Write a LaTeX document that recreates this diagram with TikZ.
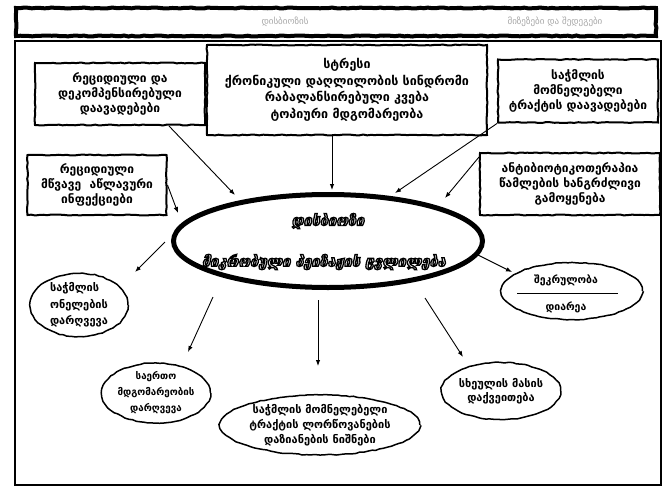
\documentclass[tikz,border=0pt]{standalone}
\usepackage{fontspec}
\setmainfont{DejaVu Sans}
\usetikzlibrary{arrows.meta,shapes.geometric,decorations.pathmorphing}

% outlined lettering: glyphs stroked, not filled
\newcommand\hollowtext[1]{%
  \special{pdf:literal direct 1 Tr 1.3 w}#1\special{pdf:literal direct 0 Tr}}

\tikzset{
  rough/.style={decorate, decoration={random steps, segment length=4pt, amplitude=.5pt}},
  causebox/.style={draw, rough, line width=2pt, align=center, inner sep=1pt,
    font=\bfseries\fontsize{12}{15}\selectfont},
  effect/.style={draw, ellipse, rough, line width=1.5pt, align=center, inner sep=0pt,
    font=\bfseries\fontsize{11}{16.5}\selectfont},
  arr/.style={-{Latex[length=6pt,width=4.5pt]}, line width=0.9pt},
  corefont/.style={font=\bfseries\itshape\fontsize{14.5}{16}\selectfont},
}

\begin{document}
\pgfmathsetseed{7}
\begin{tikzpicture}[x=1pt,y=-1pt]
\useasboundingbox (0,0) rectangle (667,490);

% heading strip
\draw[rough, line width=4pt] (16,8) rectangle (656,36);
\node[text=black!35, font=\fontsize{9}{10}\selectfont] (headA) at (285,22) {დისბიოზის};
\node[text=black!35, font=\fontsize{9}{10}\selectfont] (headB) at (555,22) {მიზეზები და შედეგები};

% outer frame
\draw[line width=1.3pt] (15,41) rectangle (661,485);

% causes
\node[causebox, minimum width=170pt, minimum height=62pt] (tl) at (120,94)
  {რეციდიული და\\დეკომპენსირებული\\დაავადებები};
\node[causebox, minimum width=280pt, minimum height=90pt, font=\bfseries\fontsize{12.5}{16.5}\selectfont] (tc) at (347,90)
  {სტრესი\\ქრონიკული დაღლილობის სინდრომი\\რაბალანსირებული კვება\\ტოპიური მდგომარეობა};
\node[causebox, minimum width=160pt, minimum height=63pt] (tr) at (578,91)
  {საჭმლის\\მომნელებელი\\ტრაქტის დაავადებები};
\node[causebox, minimum width=139pt, minimum height=60pt] (ml) at (97,185)
  {რეციდიული\\მწვავე \ აწლავური\\ინფექციები};
\node[causebox, minimum width=180pt, minimum height=62pt] (mr) at (570,184)
  {ანტიბიოტიკოთერაპია\\წამლების ხანგრძლივი\\გამოყენება};

% central ellipse
\node[draw, ellipse, line width=5pt, minimum width=309pt, minimum height=93pt, inner sep=0pt] (core) at (328,241) {};
\node[corefont] (coreA) at (328,221) {\hollowtext{დისბიოზი}};
\node[corefont] (coreB) at (324,262) {\hollowtext{მიკრობული პეიზაჟის ცვლილება}};

% effects
\node[effect, minimum width=98pt, minimum height=60pt, align=left] (e1) at (79,305)
  {საჭმლის\\ონელების\\დარღვევა};
\node[effect, minimum width=108pt, minimum height=50pt, font=\bfseries\fontsize{9.8}{16}\selectfont] (e2) at (156,393)
  {საერთო\\მდგომარეობის\\დარღვევა};
\node[effect, minimum width=176pt, minimum height=60pt, font=\bfseries\fontsize{11}{15}\selectfont] (e3) at (320,425)
  {საჭმლის მომნელებელი\\ტრაქტის ლორწოვანების\\დაზიანების ნიშნები};
\node[effect, minimum width=118pt, minimum height=57pt, font=\bfseries\fontsize{11}{14}\selectfont] (e4) at (501,391)
  {სხეულის მასის\\დაქვეითება};
\node[draw, ellipse, rough, line width=1.5pt, minimum width=141pt, minimum height=57pt] (e5) at (572,291) {};
\node[font=\bfseries\fontsize{10.5}{12}\selectfont] (e5a) at (566,280) {შეკრულობა};
\node[font=\bfseries\fontsize{10.5}{12}\selectfont] (e5b) at (566,307) {დიარეა};
\draw[line width=1pt] (e5.center) ++(-55,2) -- ++(101,0);

% arrow tips and free ends
\coordinate (i1) at (235,195);
\coordinate (i2) at (332,190);
\coordinate (i3) at (395,193);
\coordinate (i4) at (445,198);
\coordinate (i5) at (178,213);
\coordinate (oA0) at (165,242);  \coordinate (oA) at (135,272);
\coordinate (oB0) at (213,297);  \coordinate (oB) at (188,352);
\coordinate (oC0) at (318,300);  \coordinate (oC) at (318,366);
\coordinate (oD0) at (425,298);  \coordinate (oD) at (463,357);
\coordinate (oE0) at (478,255);  \coordinate (oE) at (512,272);

% causes into the ellipse
\draw[arr] (tl.south east) ++(-37,0) -- (i1);
\draw[arr] (tc.south) ++(-15,0) -- (i2);
\draw[arr] (tr.south west) -- (i3);
\draw[arr] (mr.north west) ++(0,5) -- (i4);
\draw[arr] (ml.east) -- (i5);

% ellipse out to the effects
\draw[arr] (oA0) -- (oA);
\draw[arr] (oB0) -- (oB);
\draw[arr] (oC0) -- (oC);
\draw[arr] (oD0) -- (oD);
\draw[arr] (oE0) -- (oE);
\end{tikzpicture}
\end{document}
